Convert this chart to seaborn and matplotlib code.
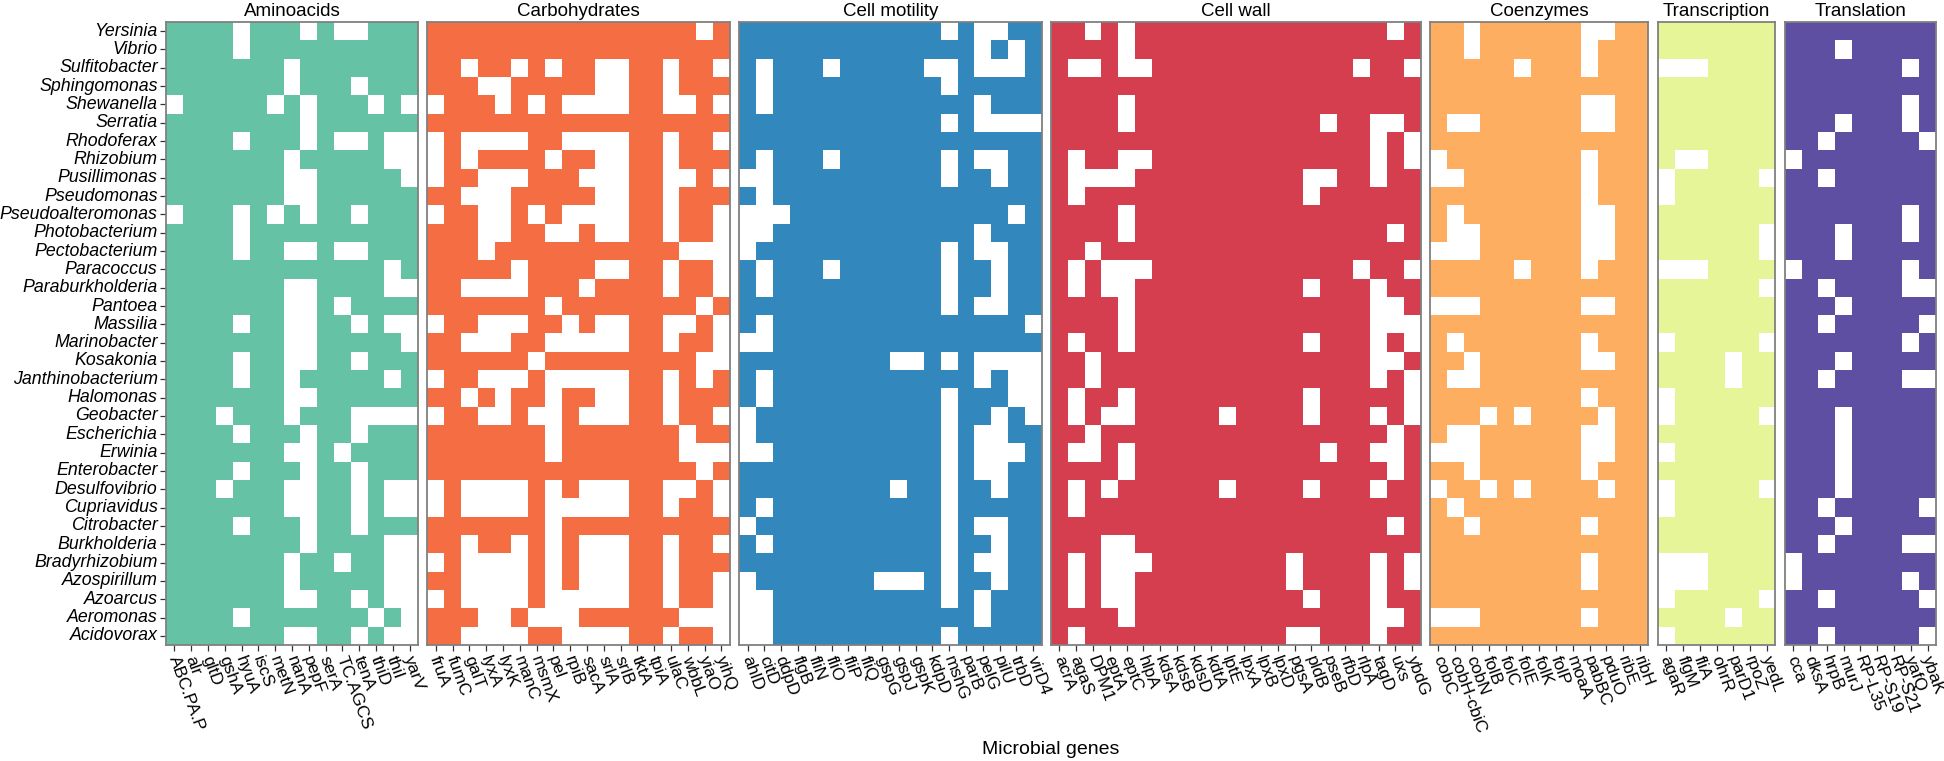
import numpy as np
import pandas as pd
import matplotlib
matplotlib.use("Agg")
import matplotlib.pyplot as plt
import seaborn as sns
from matplotlib.colors import ListedColormap

# ---------------- data ----------------
genera = ["Yersinia", "Vibrio", "Sulfitobacter", "Sphingomonas", "Shewanella", "Serratia",
          "Rhodoferax", "Rhizobium", "Pusillimonas", "Pseudomonas", "Pseudoalteromonas",
          "Photobacterium", "Pectobacterium", "Paracoccus", "Paraburkholderia", "Pantoea",
          "Massilia", "Marinobacter", "Kosakonia", "Janthinobacterium", "Halomonas",
          "Geobacter", "Escherichia", "Erwinia", "Enterobacter", "Desulfovibrio",
          "Cupriavidus", "Citrobacter", "Burkholderia", "Bradyrhizobium", "Azospirillum",
          "Azoarcus", "Aeromonas", "Acidovorax"]

categories = ["Aminoacids", "Carbohydrates", "Cell motility", "Cell wall",
              "Coenzymes", "Transcription", "Translation"]

genes_amino = ["ABC.PA.P", "alr", "gltD", "gshA", "hyuA", "iscS", "metN", "nanA", "pepF",
               "serA", "TC.AGCS", "tenA", "thiD", "thiI", "yarV"]
genes_carb = ["fruA", "fumC", "galT", "lyxA", "lyxK", "manC", "msmX", "pel", "rpiB", "sacA",
              "srlA", "srlB", "tktA", "tpiA", "ulaC", "wbbL", "yiaO", "yihQ"]
genes_motil = ["ahlD", "citD", "ddpD", "flgB", "fliN", "fliO", "fliP", "fliQ", "gspG", "gspJ",
               "gspK", "kdpD", "mshG", "parB", "pelG", "pilU", "trbD", "virD4"]
genes_wall = ["acrA", "agaS", "DPM1", "eptA", "eptC", "hlpA", "kdsA", "kdsB", "kdsD", "kdtA",
              "lptE", "lpxA", "lpxB", "lpxD", "pgsA", "pldB", "pseB", "rfbD", "rlpA", "tagD",
              "uxs", "ybdG"]
genes_coenz = ["cobC", "cobH-cbiC", "cobN", "folB", "folC", "folE", "folK", "folP", "moaA",
               "pabBC", "pduO", "ribE", "ribH"]
genes_trans = ["agaR", "flgM", "fliA", "ohrR", "parD1", "rpoZ", "yedL"]
genes_transl = ["cca", "dksA", "hrpB", "murJ", "RP-L35", "RP-S19", "RP-S21", "yafQ", "ybaK"]

# presence (1) / absence (0), one string per genus (top to bottom)
amino = ["111101110100111", "111101111111111", "111111101111111", "111111101110111",
         "011111010111010", "111111110111111", "111101110100100", "111111101111100",
         "111111100111110", "111111100111111", "011101010110111", "111101111111111",
         "111101100100111", "111111111111101", "111111100111100", "111111100101111",
         "111101100110100", "111111100111110", "111101100110111", "111101101111101",
         "111111100111111", "111011101110000", "111101110110111", "111111100101111",
         "111101110110111", "111011100110100", "111111100110100", "111101110110111",
         "111111110111100", "111111101101100", "111111101111100", "111111100110100",
         "111101111111010", "111111100110100"]

carb = ["111111111111111101", "111111111111111111", "110110101100110110", "111001111100110111",
        "011101010000110010", "111111111111111111", "010000110000110110", "010111101100110111",
        "011000111000110010", "110001111100110111", "011001010000110110", "111001100100110110",
        "111011111111111000", "111110111100110110", "110000111011110110", "111111101111111101",
        "011000110100110010", "110001100000110110", "111111011111111100", "011000100000110101",
        "110101101100110111", "011001001000110110", "111111101111111011", "111111101111111000",
        "111111111111111101", "010000101000110010", "010000100000110110", "111111101111111111",
        "110110101000110110", "010000101000110111", "110000101000110110", "010000100000110110",
        "111001000111111000", "110000110000110110"]

motil = ["111111111111010011", "111111111111110101", "101110111110010001", "101111111111011111",
         "101111111111110111", "111111111111010000", "111111111111111111", "101110111111010011",
         "001111111111011011", "101111111111111111", "000111111111111101", "001111111111110111",
         "011111111111010011", "101110111111011011", "101111111111011011", "111111111111010011",
         "101111111111111110", "001111111111111111", "111111111001010000", "101111111111110100",
         "101111111111011100", "011111111111011010", "011111111111010011", "001111111111010001",
         "111111111111010011", "111111111011011011", "101111111111011111", "011111111111010011",
         "101111111111011011", "111111111111010011", "011111110001011011", "001111111111010111",
         "001111111111110111", "001111111111011111"]

wall = ["1101011111111111111101", "1111011111111111111111", "1001001111111111110110",
        "1111111111111111111111", "1111011111111111111111", "1111011111111111011001",
        "1111111111111111111010", "1011001111111111111010", "1000011111111110011011",
        "1011111111111110111111", "1111011111111111111111", "1111011111111111111101",
        "1101111111111111111111", "1010001111111111110110", "1010011111111110111011",
        "1111011111111111111001", "1111011111111111111000", "1011011111111110111010",
        "1101111111111111111001", "1101111111111111111010", "1011011111111110111110",
        "1010011111011110111010", "1101111111111111111101", "1001011111111111011001",
        "1111011111111111111101", "1010111111011110111011", "1011111111111111111111",
        "1111111111111111111101", "1110011111111111111111", "1010001111111101111010",
        "1010011111111101111010", "1010011111111110111011", "1111011111111111111001",
        "1011111111111100111011"]

coenz = ["1101111110011", "1101111110111", "1111101110111", "1111111111111", "1111111110011",
         "1001111110011", "1111111111111", "0111111110111", "0011111110111", "1111111110111",
         "1011111110011", "1001111110011", "0001111110011", "1111101110111", "1111111111111",
         "0001111110011", "1111111111111", "1011111110111", "1101111110011", "1001111111111",
         "1111111110111", "1110101111011", "1001111110011", "0001111110011", "1101111110111",
         "0110101111011", "1011111111111", "1101111110111", "1111111111111", "1111111110111",
         "1111111110111", "1111111111111", "0001111110111", "1111111111111"]

trans = ["1111111", "1111111", "0001111", "1111111", "1111111", "1111111", "1111111",
         "1001111", "0111110", "0111111", "1111111", "1111110", "1111110", "0001111",
         "1111110", "1111111", "1111111", "0111110", "1111011", "1111011", "0111111",
         "0111110", "1111111", "0111111", "1111111", "0111110", "0111111", "1111111",
         "1111111", "0001111", "0001111", "0111110", "1111011", "0111111"]

transl = ["111111111", "111011111", "111111101", "111111111", "111111101", "111011101",
          "110111110", "011111111", "110111111", "111111111", "111111101", "111011101",
          "111011111", "011111101", "110111100", "111011111", "110111110", "111111101",
          "111011111", "110111100", "111111111", "111011111", "111011111", "111011111",
          "111011111", "111011111", "110111110", "111011111", "110111100", "011111111",
          "011111101", "110111110", "111111111", "110111110"]

colors = ["#66C2A5", "#F46D43", "#3288BD", "#D53E4F", "#FDAE61", "#E6F598", "#5E4FA2"]

panels = list(zip(categories,
                  [genes_amino, genes_carb, genes_motil, genes_wall, genes_coenz, genes_trans, genes_transl],
                  [amino, carb, motil, wall, coenz, trans, transl],
                  colors))

# ---------------- plot ----------------
sns.set_theme(style="white")
plt.rcParams['font.family'] = ['Liberation Sans', 'DejaVu Sans']

W, H = 1944, 761
fig = plt.figure(figsize=(W / 100, H / 100), dpi=100)

left, cw, gap = 166.0, 16.8, 9.4
top, bottom = 22.0, 645.0

x = left
for i, (cat, genes, rows, color) in enumerate(panels):
    n = len(genes)
    ax = fig.add_axes([x / W, 1 - bottom / H, n * cw / W, (bottom - top) / H])
    mat = np.array([[int(c) for c in r] for r in rows])
    df = pd.DataFrame(mat, index=genera, columns=genes)
    sns.heatmap(df, ax=ax, cmap=ListedColormap(["white", color]), vmin=0, vmax=1,
                cbar=False, xticklabels=True, yticklabels=(i == 0), linewidths=0)
    for s in ax.spines.values():
        s.set_visible(True)
        s.set_color("#808080")
        s.set_linewidth(1.3)
    ax.tick_params(axis="x", bottom=True, length=4, width=0.9, color="#333333",
                   labelsize=12.5, pad=4, labelcolor="black")
    for lab in ax.get_xticklabels():
        lab.set_rotation(-70)
        lab.set_ha("left")
        lab.set_va("center_baseline")
        lab.set_rotation_mode("anchor")
    if i == 0:
        ax.tick_params(axis="y", left=True, length=4, width=0.9, color="#333333",
                       labelsize=12.8, pad=2, labelcolor="black")
        plt.setp(ax.get_yticklabels(), rotation=0, fontstyle="italic")
    else:
        ax.tick_params(axis="y", left=False, labelleft=False)
    ax.set_xlabel("")
    ax.set_ylabel("")
    ax.text(0.5, 1.0 + 2.0 / (bottom - top), cat, transform=ax.transAxes,
            ha="center", va="bottom", fontsize=13.5, color="black")
    x += n * cw + gap

fig.text(1051 / W, 1 - 750 / H, "Microbial genes", ha="center", va="center",
         fontsize=14, color="black")

fig.savefig("out.png", dpi=100, facecolor="white")
